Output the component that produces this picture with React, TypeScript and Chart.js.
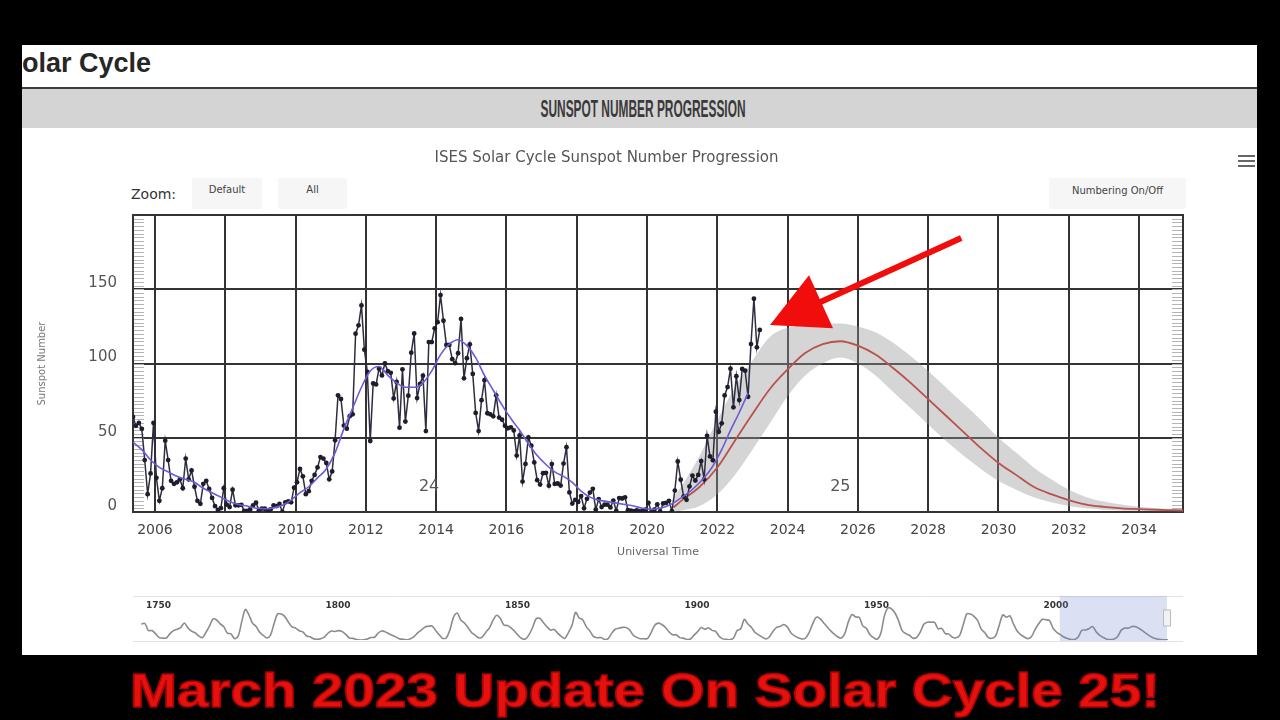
import React, { useEffect, useRef } from "react";
import { Chart, registerables } from "chart.js";

Chart.register(...registerables);

// ---------------- DATA ----------------
// Monthly mean sunspot number, first value = May 2005, last = Mar 2023
const OBS_START_YEAR = 2005;
const OBS_START_MONTH = 5;
const observedMonthly = [
  64, 58, 60, 56, 35, 12, 26, 60,
  23, 7.5, 16, 48, 35, 21, 19, 20, 22, 16, 36, 22,
  28, 17, 7.5, 5.5, 19, 21, 15.5, 9.5, 4, 1.4, 2.6, 16,
  5, 3.3, 15, 4.5, 4.5, 4.8, 0.8, 0.8, 1.7, 4.5, 6.3, 1.2,
  2.3, 2.2, 1.1, 1.8, 4.5, 4, 5.4, 0, 6.5, 7.1, 6.5, 16.4,
  20, 29, 24, 12, 14, 21, 25, 30, 37, 36, 33, 22,
  27.3, 48.3, 78.6, 76.1, 58.2, 56.1, 64.5, 65.8, 120.1, 125.7, 139.1, 109.3,
  94.4, 47.8, 86.6, 85.9, 96.5, 92.0, 100.1, 94.8, 93.7, 76.5, 87.6, 56.8,
  96.1, 60.9, 78.3, 107.3, 120.2, 76.7, 86.2, 91.8, 54.5, 114.4, 114.4, 123.7,
  127.8, 146.1, 128.8, 112.5, 112.5, 102.9, 100.2, 106.9, 130.0, 90.0, 103.6, 112.9,
  93.0, 66.7, 54.5, 75.3, 88.8, 66.5, 65.8, 64.4, 78.6, 63.6, 62.2, 58.0,
  56.4, 57.0, 54.9, 38.0, 51.5, 20.5, 32.4, 50.2, 44.6, 33.4, 21.4, 18.5,
  26.1, 26.4, 17.7, 32.3, 18.9, 19.2, 17.8, 32.6, 43.6, 13.2, 5.7, 8.2,
  6.8, 10.7, 2.5, 8.9, 13.1, 15.6, 1.6, 8.7, 3.3, 4.9, 4.9, 3.1,
  7.7, 0.8, 9.4, 9.1, 9.9, 1.2, 0.9, 0.5, 1.1, 0.4, 0.5, 1.5,
  6.2, 0.2, 1.5, 5.2, 0.2, 5.8, 6.1, 7.5, 0.6, 14.4, 34.0, 21.8,
  10.4, 8.2, 17.2, 24.5, 21.2, 25.0, 34.3, 22.0, 51.3, 37.4, 34.8, 67.5,
  54.0, 59.7, 78.5, 84.1, 96.5, 70.5, 91.4, 75.4, 96.3, 95.2, 77.6, 113.1,
  143.6, 110.9, 122.6,
];

// Smoothed sunspot number, every 3 months from May 2005
const SMOOTH_START = 2005.375;
const SMOOTH_STEP = 0.25;
const smoothedQuarterly = [
  47, 42, 35, 30, 27, 24, 22, 20, 16, 13, 10, 7, 5, 4, 2.5, 2.2, 2.8, 4.5, 8,
  13, 17, 23, 29, 40, 56, 70, 84, 95, 98, 92, 87, 84, 84, 87, 95, 106, 113,
  116, 112, 104, 92, 82, 72, 63, 55, 46, 38, 32, 27, 24, 20, 14, 10, 8, 7, 6,
  5, 4, 2.5, 1.8, 2.5, 4.5, 8, 12, 17, 23, 31, 42, 55, 67, 80,
];

// Predicted progression of cycle 25 and its range
const predictedYears = [
  2020.75, 2021, 2021.5, 2022, 2022.5, 2023, 2023.5, 2024, 2024.5, 2025, 2025.5,
  2026, 2026.5, 2027, 2027.5, 2028, 2028.5, 2029, 2029.5, 2030, 2030.5, 2031,
  2031.5, 2032, 2032.5, 2033, 2033.5, 2034, 2034.5, 2035, 2035.25,
];
const predictedValues = [
  3, 8, 17, 30, 48, 66, 83, 96, 107, 113, 115, 112, 106, 97, 87, 76, 65, 54, 43,
  33, 25, 17, 12, 8, 5, 3.5, 2.5, 2, 1.5, 1.2, 1,
];
const predictedHigh = [
  10, 18, 38, 62, 84, 102, 118, 124, 126, 127, 127, 125, 121, 114, 105, 95, 84,
  73, 62, 50, 40, 30, 22, 15, 10, 7, 5, 3.5, 2.5, 2, 2,
];
const predictedLow = [
  0, 1, 4, 12, 25, 42, 60, 78, 92, 100, 104, 100, 92, 81, 70, 59, 48, 38, 29,
  21, 15, 10, 6.5, 4, 2.5, 1.5, 1, 0.8, 0.5, 0.4, 0.3,
];

const xTickYears = [2006, 2008, 2010, 2012, 2014, 2016, 2018, 2020, 2022, 2024, 2026, 2028, 2030, 2032, 2034];
const yTickValues = [0, 50, 100, 150, 200];
const X_MIN = 2005.375;
const X_MAX = 2035.25;

const cycleLabels = ["24", "25"];
const cycleLabelYears = [2013.8, 2025.5];
const CYCLE_LABEL_VALUE = 17;

// red arrow (data coordinates: year, sunspot number)
const arrowTail = [2028.94, 184.5];
const arrowTip = [2023.5, 126];

// Navigator: yearly mean sunspot number from 1749, then predicted years
const NAV_START_YEAR = 1749;
const navYearly = [
  134.7, 139.0, 79.5, 79.7, 51.2, 20.3, 16.0, 17.0, 54.0, 79.3, 90.0, 104.8,
  143.2, 102.0, 75.2, 60.7, 34.8, 19.0, 63.0, 116.3, 176.8, 168.0, 136.0,
  110.8, 58.0, 51.0, 11.7, 33.0, 154.2, 257.3, 209.8, 141.3, 113.5, 64.2,
  38.0, 17.0, 40.2, 138.2, 220.0, 218.2, 196.8, 149.8, 111.0, 100.0, 78.2,
  68.3, 35.5, 26.7, 10.7, 6.8, 11.3, 24.2, 56.7, 75.0, 71.8, 79.2, 70.3,
  46.8, 16.8, 13.5, 4.2, 0.0, 2.3, 8.3, 20.3, 23.2, 59.0, 76.3, 68.3, 52.9,
  38.5, 24.2, 9.2, 6.3, 2.2, 11.4, 28.2, 59.9, 83.0, 108.5, 115.2, 117.4,
  80.8, 44.3, 13.4, 19.5, 85.8, 192.7, 227.3, 168.7, 143.0, 105.5, 63.3,
  40.3, 18.1, 25.1, 65.8, 102.7, 166.3, 208.3, 182.5, 126.3, 122.0, 102.7,
  74.1, 39.0, 12.7, 8.2, 43.4, 104.4, 178.3, 182.2, 146.6, 112.1, 83.5,
  89.2, 57.8, 30.7, 13.9, 62.8, 123.6, 232.0, 185.3, 169.2, 110.1, 74.5,
  28.3, 18.9, 20.7, 5.7, 10.0, 53.7, 90.5, 99.0, 106.1, 105.8, 86.3, 42.4,
  21.8, 11.2, 10.4, 11.8, 59.5, 121.7, 142.0, 130.0, 106.6, 69.4, 43.8,
  44.4, 20.2, 15.7, 4.6, 8.5, 40.8, 70.1, 105.5, 90.1, 102.8, 80.9, 73.2,
  30.9, 9.5, 6.0, 2.4, 16.1, 79.0, 95.0, 173.6, 134.6, 105.7, 62.7, 43.5,
  23.7, 9.7, 27.9, 74.0, 106.5, 114.7, 129.7, 108.2, 59.4, 35.1, 18.6, 9.2,
  14.6, 60.2, 132.8, 190.6, 182.6, 148.0, 113.0, 79.2, 50.8, 27.1, 16.1,
  55.3, 154.3, 214.7, 193.0, 190.7, 118.9, 98.3, 45.0, 20.1, 6.6, 54.2,
  200.7, 269.3, 261.7, 225.1, 159.0, 76.4, 53.4, 39.9, 15.0, 22.0, 66.8,
  132.9, 150.0, 149.4, 148.0, 94.4, 97.6, 54.1, 49.2, 22.5, 18.4, 39.3,
  131.0, 220.1, 218.9, 198.9, 162.4, 91.0, 60.5, 20.6, 14.8, 33.9, 123.0,
  211.1, 191.8, 203.3, 133.0, 76.1, 44.9, 25.1, 11.6, 28.9, 88.3, 136.3,
  173.9, 170.4, 163.6, 99.3, 65.3, 45.8, 24.7, 12.6, 4.2, 4.8, 24.9, 80.8,
  84.5, 94.0, 113.3, 69.8, 39.8, 21.7, 7.0, 3.6, 8.8, 29.6, 83.2,
  100, 100, 113, 112, 97, 76, 54, 33, 17, 8, 3.5, 2, 1.2,
];
const navLabelYears = [1750, 1800, 1850, 1900, 1950, 2000];
const NAV_MIN = 1747.2;
const NAV_MAX = 2039.7;

// ---------------- BUILD POINTS ----------------
const observedPoints = observedMonthly.map((v, i) => {
  const m = OBS_START_MONTH - 1 + i;
  return { x: OBS_START_YEAR + Math.floor(m / 12) + ((m % 12) + 0.5) / 12, y: v };
});
const smoothedPoints = smoothedQuarterly.map((v, i) => ({ x: SMOOTH_START + i * SMOOTH_STEP, y: v }));
const predictedPoints = predictedYears.map((t, i) => ({ x: t, y: predictedValues[i] }));
const highPoints = predictedYears.map((t, i) => ({ x: t, y: predictedHigh[i] }));
const lowPoints = predictedYears.map((t, i) => ({ x: t, y: predictedLow[i] }));
const navPoints = navYearly.map((v, i) => ({ x: NAV_START_YEAR + i + 0.5, y: v }));

const AXIS_FONT = '"DejaVu Sans", sans-serif';

const framePlugin = {
  id: "frame",
  beforeDatasetsDraw(chart: any) {
    const { ctx, chartArea: a, scales } = chart;
    const ys = scales.y;
    ctx.save();
    ctx.strokeStyle = "#b4b4b4";
    ctx.lineWidth = 1;
    for (let v = 0; v <= 200; v += 2.5) {
      const py = Math.round(ys.getPixelForValue(v)) + 0.5;
      ctx.beginPath();
      ctx.moveTo(a.left, py);
      ctx.lineTo(a.left + 11, py);
      ctx.moveTo(a.right - 11, py);
      ctx.lineTo(a.right, py);
      ctx.stroke();
    }
    ctx.strokeStyle = "#333";
    ctx.lineWidth = 2;
    ctx.strokeRect(a.left, a.top, a.right - a.left, a.bottom - a.top);
    ctx.restore();
  },
};

const annotationPlugin = {
  id: "annot",
  afterDatasetsDraw(chart: any) {
    const { ctx, scales } = chart;
    const xs = scales.x;
    const ys = scales.y;
    ctx.save();
    ctx.font = `16px ${AXIS_FONT}`;
    ctx.fillStyle = "#555";
    ctx.textAlign = "center";
    ctx.textBaseline = "middle";
    cycleLabels.forEach((t, i) => {
      ctx.fillText(t, xs.getPixelForValue(cycleLabelYears[i]), ys.getPixelForValue(CYCLE_LABEL_VALUE));
    });
    const tx = xs.getPixelForValue(arrowTip[0]);
    const ty = ys.getPixelForValue(arrowTip[1]);
    const sx = xs.getPixelForValue(arrowTail[0]);
    const sy = ys.getPixelForValue(arrowTail[1]);
    const dx = sx - tx;
    const dy = sy - ty;
    const len = Math.hypot(dx, dy);
    const ux = dx / len;
    const uy = dy / len;
    const headLen = 56;
    const halfW = 29;
    const bx = tx + ux * headLen;
    const by = ty + uy * headLen;
    ctx.strokeStyle = "#f20d0d";
    ctx.fillStyle = "#f20d0d";
    ctx.lineWidth = 6;
    ctx.beginPath();
    ctx.moveTo(sx, sy);
    ctx.lineTo(bx - ux * 3, by - uy * 3);
    ctx.stroke();
    ctx.beginPath();
    ctx.moveTo(tx, ty);
    ctx.lineTo(bx - uy * halfW, by + ux * halfW);
    ctx.lineTo(bx + uy * halfW, by - ux * halfW);
    ctx.closePath();
    ctx.fill();
    ctx.restore();
  },
};

const navPlugin = {
  id: "nav",
  beforeDatasetsDraw(chart: any) {
    const { ctx, scales } = chart;
    const xs = scales.x;
    ctx.save();
    ctx.strokeStyle = "#e2e2e2";
    ctx.lineWidth = 1;
    ctx.beginPath();
    ctx.moveTo(0, 0.5);
    ctx.lineTo(chart.width, 0.5);
    ctx.moveTo(0, chart.height - 1.5);
    ctx.lineTo(chart.width, chart.height - 1.5);
    ctx.stroke();
    ctx.font = `bold 9px ${AXIS_FONT}`;
    ctx.fillStyle = "#333";
    ctx.textAlign = "left";
    ctx.textBaseline = "middle";
    navLabelYears.forEach((yr) => {
      ctx.fillText(String(yr), xs.getPixelForValue(yr) + 3, 10);
    });
    ctx.restore();
  },
  afterDatasetsDraw(chart: any) {
    const { ctx, scales } = chart;
    const xs = scales.x;
    const x0 = xs.getPixelForValue(X_MIN);
    const x1 = xs.getPixelForValue(X_MAX);
    ctx.save();
    ctx.fillStyle = "rgba(110,135,205,0.25)";
    ctx.fillRect(x0, 0, x1 - x0, chart.height - 2);
    ctx.fillStyle = "#f2f2f2";
    ctx.strokeStyle = "#bbb";
    ctx.lineWidth = 1;
    ctx.fillRect(x1 - 3.5, 14, 7, 16);
    ctx.strokeRect(x1 - 3.5, 14, 7, 16);
    ctx.restore();
  },
};

export default function App() {
  const mainRef = useRef<HTMLCanvasElement>(null);
  const navRef = useRef<HTMLCanvasElement>(null);

  useEffect(() => {
    const main = new Chart(mainRef.current as HTMLCanvasElement, {
      type: "line",
      data: {
        datasets: [
          {
            label: "Smoothed",
            data: smoothedPoints,
            borderColor: "#6b5bd6",
            borderWidth: 1.6,
            pointRadius: 0,
            cubicInterpolationMode: "monotone",
          },
          {
            label: "Monthly",
            data: observedPoints,
            borderColor: "#2d2d40",
            borderWidth: 1.5,
            pointRadius: 2.4,
            pointBackgroundColor: "#1d1d2b",
            pointBorderWidth: 0,
          },
          {
            label: "Predicted",
            data: predictedPoints,
            borderColor: "#b9524c",
            borderWidth: 1.8,
            pointRadius: 0,
            cubicInterpolationMode: "monotone",
          },
          {
            label: "High",
            data: highPoints,
            borderWidth: 0,
            pointRadius: 0,
            fill: "+1",
            backgroundColor: "rgba(150,150,150,0.4)",
            cubicInterpolationMode: "monotone",
          },
          {
            label: "Low",
            data: lowPoints,
            borderWidth: 0,
            pointRadius: 0,
            fill: false,
            cubicInterpolationMode: "monotone",
          },
        ] as any,
      },
      options: {
        animation: false,
        responsive: false,
        devicePixelRatio: 1,
        events: [],
        layout: { padding: { left: 0, right: 47, top: 0, bottom: 0 } },
        plugins: {
          legend: { display: false },
          tooltip: { enabled: false },
          title: {
            display: true,
            text: "ISES Solar Cycle Sunspot Number Progression",
            color: "#555",
            font: { family: AXIS_FONT, size: 15, weight: "normal" },
            padding: { top: 9, bottom: 48 },
          },
        },
        scales: {
          x: {
            type: "linear",
            min: X_MIN,
            max: X_MAX,
            afterBuildTicks: (s: any) => {
              s.ticks = xTickYears.map((v) => ({ value: v }));
            },
            afterFit: (s: any) => {
              s.height = 58;
            },
            grid: { color: "#333", lineWidth: 2, drawTicks: false },
            border: { display: true, color: "#333", width: 2 },
            ticks: {
              color: "#444",
              font: { family: AXIS_FONT, size: 14 },
              padding: 10,
              maxRotation: 0,
              callback: (v: any) => String(v),
            },
            title: {
              display: true,
              text: "Universal Time",
              color: "#666",
              font: { family: AXIS_FONT, size: 11 },
              padding: { top: 0, bottom: 11 },
            },
          },
          y: {
            type: "linear",
            min: 0,
            max: 200,
            afterBuildTicks: (s: any) => {
              s.ticks = yTickValues.map((v) => ({ value: v }));
            },
            afterFit: (s: any) => {
              s.width = 103;
            },
            grid: { color: "#333", lineWidth: 2, drawTicks: false },
            border: { display: true, color: "#333", width: 2 },
            ticks: {
              color: "#555",
              font: { family: AXIS_FONT, size: 15 },
              padding: 16,
              labelOffset: -6,
              callback: (v: any) => (v === 200 ? "" : String(v)),
            },
            title: {
              display: true,
              text: "Sunspot Number",
              color: "#777",
              font: { family: AXIS_FONT, size: 10 },
              padding: { top: 6, bottom: 0 },
            },
          },
        },
      },
      plugins: [framePlugin, annotationPlugin],
    } as any);

    const nav = new Chart(navRef.current as HTMLCanvasElement, {
      type: "line",
      data: {
        datasets: [
          {
            data: navPoints,
            borderColor: "#8c8c8c",
            borderWidth: 1.6,
            pointRadius: 0,
            tension: 0.3,
          },
        ],
      },
      options: {
        animation: false,
        responsive: false,
        devicePixelRatio: 1,
        events: [],
        layout: { padding: { left: 0, right: 0, top: 0, bottom: 3 } },
        plugins: { legend: { display: false }, tooltip: { enabled: false } },
        scales: {
          x: { type: "linear", min: NAV_MIN, max: NAV_MAX, display: false },
          y: { min: 0, max: 370, display: false },
        },
      },
      plugins: [navPlugin],
    } as any);

    return () => {
      main.destroy();
      nav.destroy();
    };
  }, []);

  const btn: React.CSSProperties = {
    position: "absolute",
    top: 133,
    height: 31,
    background: "#f6f6f6",
    borderRadius: 2,
    fontSize: 10,
    color: "#444",
    textAlign: "center",
    lineHeight: "24px",
    fontFamily: AXIS_FONT,
  };

  return (
    <div
      style={{
        position: "fixed",
        left: 0,
        top: 0,
        width: 1280,
        height: 720,
        background: "#000",
        overflow: "hidden",
        fontFamily: AXIS_FONT,
      }}
    >
      <div
        style={{
          position: "absolute",
          left: 22,
          top: 45,
          width: 1235,
          height: 610,
          background: "#fff",
          overflow: "hidden",
        }}
      >
        <div
          style={{
            position: "absolute",
            left: -18,
            top: 5,
            fontFamily: '"Liberation Sans", Arial, sans-serif',
            fontWeight: "bold",
            fontSize: 27,
            lineHeight: "27px",
            color: "#262626",
            whiteSpace: "nowrap",
          }}
        >
          Solar Cycle
        </div>
        <div style={{ position: "absolute", left: 0, top: 42, width: 1235, height: 2, background: "#3c3c3c" }} />
        <div style={{ position: "absolute", left: 0, top: 44, width: 1235, height: 39, background: "#d4d4d4" }} />
        <svg style={{ position: "absolute", left: 0, top: 44 }} width={1235} height={39}>
          <text
            x={621}
            y={28}
            textAnchor="middle"
            textLength={205}
            lengthAdjust="spacingAndGlyphs"
            fontFamily='"Liberation Sans Narrow", "Liberation Sans", sans-serif'
            fontWeight="bold"
            fontSize={23}
            fill="#3a3a3a"
          >
            SUNSPOT NUMBER PROGRESSION
          </text>
        </svg>
        <div
          style={{
            position: "absolute",
            left: 109,
            top: 140,
            fontSize: 14,
            color: "#333",
            lineHeight: "18px",
          }}
        >
          Zoom:
        </div>
        <div style={{ ...btn, left: 170, width: 70 }}>Default</div>
        <div style={{ ...btn, left: 256, width: 69 }}>All</div>
        <div style={{ ...btn, left: 1027, width: 137, lineHeight: "26px" }}>Numbering On/Off</div>
        {[0, 5, 10].map((d) => (
          <div
            key={d}
            style={{ position: "absolute", left: 1216, top: 110 + d, width: 17, height: 2, background: "#666" }}
          />
        ))}
      </div>
      <canvas
        ref={mainRef}
        width={1200}
        height={430}
        style={{ position: "absolute", left: 30, top: 140, width: 1200, height: 430 }}
      />
      <canvas
        ref={navRef}
        width={1050}
        height={47}
        style={{ position: "absolute", left: 133, top: 596, width: 1050, height: 47 }}
      />
      <svg style={{ position: "absolute", left: 0, top: 655 }} width={1280} height={65}>
        <text
          x={645}
          y={52}
          textAnchor="middle"
          textLength={1030}
          lengthAdjust="spacingAndGlyphs"
          fontFamily='"Liberation Sans", Arial, sans-serif'
          fontWeight="bold"
          fontSize={48}
          fill="#e3120f"
          stroke="#b00000"
          strokeWidth={1.5}
        >
          March 2023 Update On Solar Cycle 25!
        </text>
      </svg>
    </div>
  );
}
